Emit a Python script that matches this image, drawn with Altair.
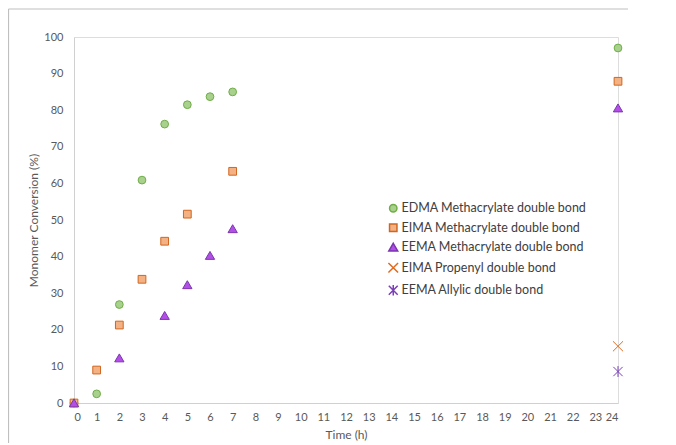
import altair as alt
import pandas as pd

series_names = [
    "EDMA Methacrylate double bond",
    "EIMA Methacrylate double bond",
    "EEMA Methacrylate double bond",
    "EIMA Propenyl double bond",
    "EEMA Allylic double bond",
]

edma_t = [0, 1, 2, 3, 4, 5, 6, 7, 24]
edma_v = [0, 2.5, 26.9, 60.9, 76.2, 81.5, 83.7, 85.0, 97.0]

eima_t = [0, 1, 2, 3, 4, 5, 7, 24]
eima_v = [0, 9.0, 21.3, 33.8, 44.2, 51.6, 63.3, 87.9]

eema_t = [0, 2, 4, 5, 6, 7, 24]
eema_v = [0, 12.3, 23.9, 32.3, 40.3, 47.6, 80.6]

eima_prop_t = [24]
eima_prop_v = [15.5]

eema_allyl_t = [24]
eema_allyl_v = [8.6]

rows = []
for name, ts, vs in zip(series_names,
                        [edma_t, eima_t, eema_t, eima_prop_t, eema_allyl_t],
                        [edma_v, eima_v, eema_v, eima_prop_v, eema_allyl_v]):
    for t, v in zip(ts, vs):
        rows.append({"series": name, "time": t, "conv": v})
df = pd.DataFrame(rows)

tri_shape = "M0,-1.05L1.2,1L-1.2,1Z"
x_shape = "M-1.3,-1.3L1.3,1.3M-1.3,1.3L1.3,-1.3"
ast_shape = "M-1.2,-1.2L1.2,1.2M-1.2,1.2L1.2,-1.2M0,-1.4L0,1.4"

shapes = ["circle", "square", tri_shape, x_shape, ast_shape]
fills = ["#a9d18e", "#f4b183", "#b34fe6", "transparent", "transparent"]
strokes = ["#70ad47", "#d0661f", "#7a35b0", "#e06a1e", "#7a3fb8"]

font = "Lato"
leg_common = dict(title=None, orient="none", legendX=313, legendY=165)

points = alt.Chart(df).mark_point(size=60, opacity=1, filled=False, strokeWidth=1, clip=False).encode(
    x=alt.X("time:Q", title="Time (h)",
            scale=alt.Scale(domain=[0, 24], nice=False),
            axis=alt.Axis(values=list(range(0, 25)), grid=False, ticks=False,
                          domainColor="#d0d0d0", labelColor="#595959", labelFontSize=11,
                          labelFont=font, labelPadding=8, titleFont=font, titleFontSize=12,
                          titleFontWeight="normal", titleColor="#595959", titlePadding=7)),
    y=alt.Y("conv:Q", title="Monomer Conversion (%)",
            scale=alt.Scale(domain=[0, 100], nice=False),
            axis=alt.Axis(values=list(range(0, 101, 10)), grid=False, ticks=False,
                          domainColor="#d0d0d0", labelColor="#595959", labelFontSize=11,
                          labelFont=font, labelPadding=11, titleFont=font, titleFontSize=12,
                          titleFontWeight="normal", titleColor="#595959", titlePadding=3)),
    shape=alt.Shape("series:N", scale=alt.Scale(domain=series_names, range=shapes),
                    legend=alt.Legend(labelFont=font, labelFontSize=12.5, labelColor="#404040",
                                      rowPadding=5.5, symbolSize=55, labelLimit=400,
                                      labelOffset=2, **leg_common)),
    fill=alt.Fill("series:N", scale=alt.Scale(domain=series_names, range=fills),
                  legend=alt.Legend(**leg_common)),
    stroke=alt.Stroke("series:N", scale=alt.Scale(domain=series_names, range=strokes),
                      legend=alt.Legend(**leg_common)),
)

frame_src = pd.DataFrame({"a": [0]})
frame_top = alt.Chart(frame_src).mark_rule(stroke="#bfbfbf", strokeWidth=1.2, clip=False).encode(
    x=alt.value(-65.5), x2=alt.value(600), y=alt.value(-28))
frame_left = alt.Chart(frame_src).mark_rule(stroke="#bfbfbf", strokeWidth=1.2, clip=False).encode(
    x=alt.value(-65.5), y=alt.value(-28), y2=alt.value(408))

chart = alt.layer(frame_top, frame_left, points).properties(
    width=544, height=366,
    padding={"left": 66, "top": 29, "right": 10, "bottom": 40},
    autosize=alt.AutoSizeParams(type="none"),
).configure_view(stroke=None).configure(background="white")

chart.save("out.html", embed_options={"renderer": "svg", "actions": False})
